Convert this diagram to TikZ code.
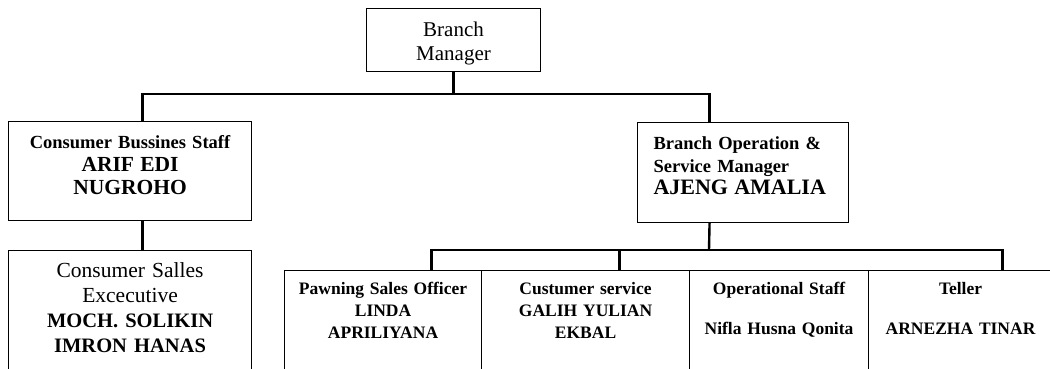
\documentclass[tikz,border=0pt]{standalone}
\usepackage{fontspec}
\setmainfont{Liberation Serif}
\usetikzlibrary{calc}
\tikzset{
  box-c/.style={draw,rectangle,anchor=north west,line width=1.1pt,inner sep=0pt,align=center},
  box-o/.style={box-c,text depth=160pt},
  conn/.style={line width=2.4pt},
}
\newcommand\orgname{\fontsize{21.5}{24}\selectfont}
\newcommand\orglow{\fontsize{20.5}{25}\selectfont\bfseries}

\begin{document}
\begin{tikzpicture}[x=1pt,y=-1pt]

  \useasboundingbox (0,0) rectangle (1050,369);
  \clip (0,0) rectangle (1050,369);

  % top
  \node[box-c,text width=174pt,text height=28pt,text depth=35pt,font=\fontsize{21}{24}\selectfont] (bm) at (366,8) {Branch\\Manager};

  % left branch
  \node[box-c,text width=243pt,text height=27pt,text depth=72pt,font=\fontsize{18.5}{23}\selectfont\bfseries] (cbs) at (8,121)
    {Consumer Bussines Staff\\{\orgname ARIF EDI}\\{\orgname NUGROHO}};
  \node[box-o,text width=243pt,text height=27pt,font=\fontsize{21.5}{25}\selectfont] (cse) at (8,250)
    {Consumer Salles\\Excecutive\\{\orglow MOCH. SOLIKIN}\\{\orglow IMRON HANAS}};

  % right branch
  \node[box-c,text width=179pt,inner xsep=16pt,text height=27pt,text depth=73pt,align=left,font=\fontsize{18.5}{22.5}\selectfont\bfseries] (bosm) at (637,122)
    {Branch Operation \&\\Service Manager\\{\fontsize{22}{24}\selectfont AJENG AMALIA}};

  % bottom row
  \node[box-o,text width=197pt,text height=24pt,font=\fontsize{17.5}{22}\selectfont\bfseries] (pso) at (284,270)
    {Pawning Sales Officer\\LINDA\\APRILIYANA};
  \node[box-o,text width=208pt,text height=24pt,font=\fontsize{17.5}{22}\selectfont\bfseries] (cs) at (481,270)
    {Custumer service\\GALIH YULIAN\\EKBAL};
  \node[box-o,text width=179pt,text height=24pt,font=\fontsize{17.5}{22}\selectfont\bfseries] (ops) at (689,270)
    {Operational Staff\\[18pt]Nifla Husna Qonita};
  \node[box-o,text width=184pt,text height=24pt,font=\fontsize{17.5}{22}\selectfont\bfseries] (tel) at (868,270)
    {Teller\\[18pt]ARNEZHA TINAR};

  % connectors
  \coordinate (j1) at (450,94);
  \coordinate (j2) at (709,250);
  \draw[conn] (bm.south) -- (bm.south |- j1);
  \draw[conn] ([xshift=12.5pt]cbs.north) |- (j1) -| ([xshift=-33.5pt]bosm.north);
  \draw[conn] ([xshift=12.5pt]cbs.south) -- ([xshift=12.5pt]cse.north);
  \draw[conn] ([xshift=-33.5pt]bosm.south) -- (j2);
  \draw[conn] ([xshift=48.5pt]pso.north) |- (j2) -| ([xshift=42pt]tel.north);
  \draw[conn] ([xshift=34pt]cs.north) -- ([xshift=34pt]cs.north |- j2);

\end{tikzpicture}
\end{document}
